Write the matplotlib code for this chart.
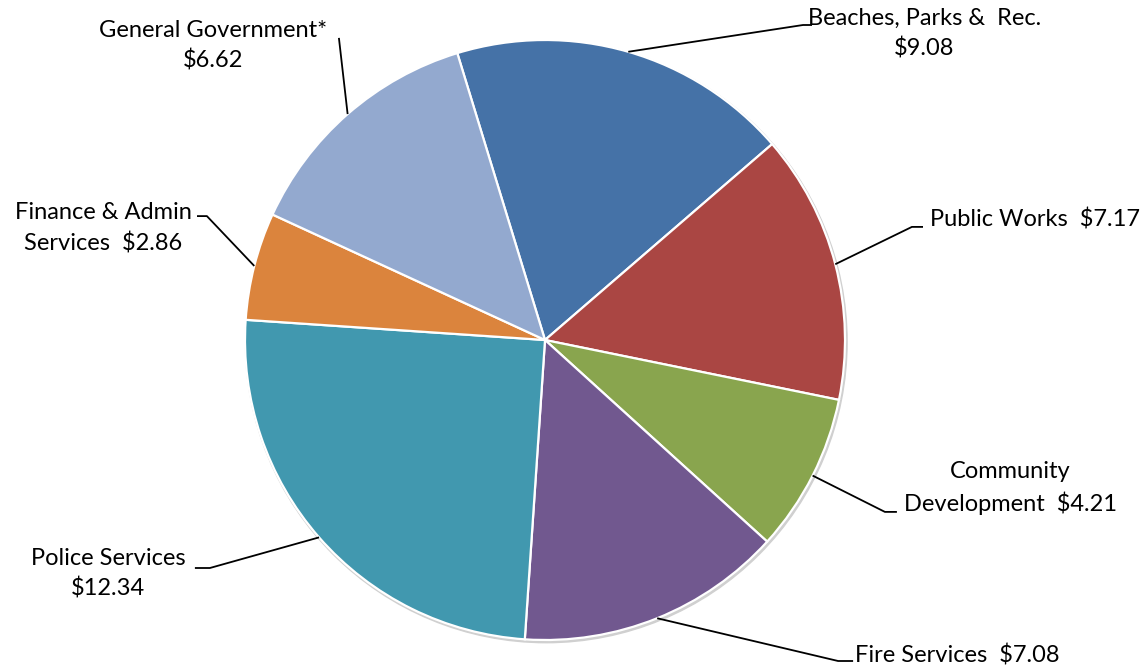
import numpy as np
import matplotlib.pyplot as plt

plt.rcParams['font.family'] = ['Lato', 'DejaVu Sans']

# spending by department, clockwise from the top
labels = ['Beaches, Parks &  Rec.\n$9.08', 'Public Works  $7.17',
          'Community\nDevelopment  $4.21', 'Fire Services  $7.08',
          'Police Services\n$12.34', 'Finance & Admin\nServices  $2.86',
          'General Government*\n$6.62']
values = [9.08, 7.17, 4.21, 7.08, 12.34, 2.86, 6.62]
colors = ['#4572A7', '#AA4643', '#89A54E', '#71588F', '#4198AF', '#DB843D', '#93A9CF']

# label text position, leader elbow, horizontal tail end, alignment
label_pos = [(1.265, 1.02), (1.283, 0.403), (1.55, -0.493), (1.033, -1.053),
             (-1.457, -0.78), (-1.473, 0.373), (-1.107, 0.98)]
elbows = [(0.86, 1.05), (1.223, 0.377), (1.133, -0.573), (0.977, -1.07),
          (-1.117, -0.76), (-1.127, 0.413), (-0.687, 1.007)]
tails = [(0.89, 1.05), (1.26, 0.377), (1.173, -0.573), (1.027, -1.07),
         (-1.167, -0.76), (-1.16, 0.413), (-0.687, 1.007)]
aligns = ['center', 'left', 'center', 'left', 'center', 'center', 'center']

W, H = 1146, 668
cx, cy, R = 545, 340, 300

fig = plt.figure(figsize=(W / 100, H / 100), dpi=100)
ax = fig.add_axes([0, 0, 1, 1])
ax.set_aspect('equal')
ax.axis('off')

# faint shadow ring around the pie
ax.add_patch(plt.Circle((0.004, -0.006), 1.003, color='#d0d0d0', zorder=0))

wedges, _ = ax.pie(values, colors=colors, startangle=107, counterclock=False,
                   radius=1, center=(0, 0),
                   wedgeprops=dict(edgecolor='white', linewidth=1.6))
ax.set_xlim(-cx / R, (W - cx) / R)
ax.set_ylim(-(H - cy) / R, cy / R)

for w, lab, pos, el, tl, ha in zip(wedges, labels, label_pos, elbows, tails, aligns):
    mid = np.deg2rad((w.theta1 + w.theta2) / 2)
    x0, y0 = np.cos(mid), np.sin(mid)
    ax.plot([x0, el[0], tl[0]], [y0, el[1], tl[1]], color='black', lw=1.3,
            solid_capstyle='butt', zorder=3)
    ax.text(pos[0], pos[1], lab, ha=ha, va='center', multialignment='center',
            fontsize=17, color='black', linespacing=1.5)

fig.savefig('out.png', dpi=100)
